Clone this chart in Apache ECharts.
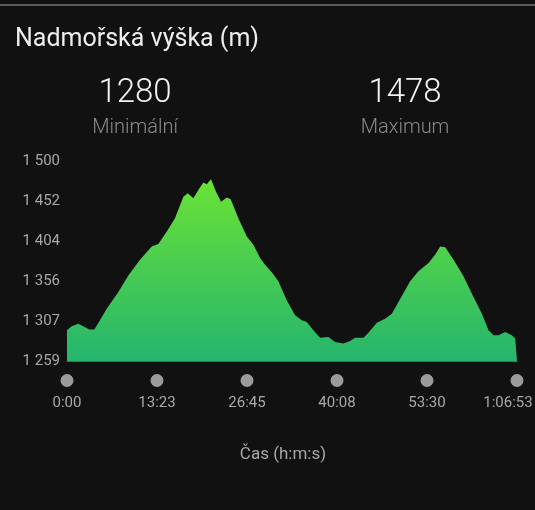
<!DOCTYPE html>
<html>
<head>
<meta charset="utf-8">
<script src="https://cdn.jsdelivr.net/npm/echarts@6/dist/echarts.min.js"></script>
<style>
html,body{margin:0;padding:0;background:#111111;}
#chart{width:535px;height:510px;}
</style>
</head>
<body>
<div id="chart"></div>
<script>
// elapsed time in seconds
const times = [0, 42, 100, 145, 199, 244, 294, 354, 458, 547, 651, 756, 815, 890, 963, 1038, 1077, 1127, 1171, 1216, 1246, 1284, 1329, 1374, 1425, 1460, 1528, 1603, 1662, 1722, 1766, 1826, 1885, 1960, 2034, 2094, 2138, 2197, 2257, 2331, 2391, 2465, 2525, 2569, 2644, 2688, 2763, 2837, 2897, 2956, 3060, 3134, 3224, 3283, 3328, 3373, 3447, 3536, 3625, 3700, 3759, 3804, 3848, 3908, 3967, 3997, 4013];
// elevation in metres
const elevations = [1296, 1301, 1304, 1301, 1297, 1297, 1308, 1322, 1342, 1362, 1381, 1397, 1400, 1415, 1431, 1457, 1461, 1455, 1465, 1474, 1472, 1478, 1463, 1451, 1456, 1454, 1431, 1409, 1399, 1383, 1375, 1366, 1355, 1332, 1314, 1308, 1306, 1296, 1287, 1288, 1282, 1280, 1283, 1287, 1287, 1293, 1305, 1310, 1316, 1330, 1355, 1367, 1377, 1387, 1397, 1396, 1381, 1361, 1336, 1316, 1296, 1290, 1290, 1294, 1290, 1286, 1285];
const xTickLabels = ['0:00', '13:23', '26:45', '40:08', '53:30', '1:06:53'];
const yTickLabels = ['1 259', '1 307', '1 356', '1 404', '1 452', '1 500'];
const titleText = 'Nadmořská výška (m)';
const statValues = ['1280', '1478'];
const statNames = ['Minimální', 'Maximum'];
const xAxisTitle = 'Čas (h:m:s)';

const totalTime = 4013;
const xInterval = totalTime / 5;
const yMin = 1259, yMax = 1500;
const yInterval = (yMax - yMin) / 5;

const data = times.map((t, i) => [t, elevations[i]]);
const FONT = 'Roboto, "Noto Sans", sans-serif';

const chart = echarts.init(document.getElementById('chart'), null, {renderer: 'canvas'});
const baseX = {
  type: 'value', min: 0, max: totalTime, interval: xInterval,
  axisTick: {show: false}, splitLine: {show: false}
};
chart.setOption({
  backgroundColor: '#111111',
  animation: false,
  grid: {left: 67, right: 18, top: 161, bottom: 149, containLabel: false, outerBoundsMode: 'none'},
  graphic: [
    {type: 'line', shape: {x1: 0, y1: 5, x2: 535, y2: 5}, style: {stroke: '#5a5a5a', lineWidth: 2}},
    {type: 'text', x: 15, y: 40, style: {text: titleText, fill: '#eeeeee', font: '400 25px ' + FONT, textVerticalAlign: 'middle'}},
    {type: 'text', x: 135, y: 94, style: {text: statValues[0], fill: '#f2f2f2', font: '300 33px ' + FONT, textAlign: 'center', textVerticalAlign: 'middle'}},
    {type: 'text', x: 135, y: 128, style: {text: statNames[0], fill: '#8a8a8a', font: '300 20px ' + FONT, textAlign: 'center', textVerticalAlign: 'middle'}},
    {type: 'text', x: 405, y: 94, style: {text: statValues[1], fill: '#f2f2f2', font: '300 33px ' + FONT, textAlign: 'center', textVerticalAlign: 'middle'}},
    {type: 'text', x: 405, y: 128, style: {text: statNames[1], fill: '#8a8a8a', font: '300 20px ' + FONT, textAlign: 'center', textVerticalAlign: 'middle'}}
  ],
  xAxis: [
    Object.assign({}, baseX, {
      axisLine: {show: true, lineStyle: {color: '#1d8a4e', width: 1}},
      axisLabel: {
        margin: 13,
        formatter: () => '{d|}',
        rich: {d: {width: 13, height: 13, borderRadius: 6.5, backgroundColor: '#9b9b9b'}}
      }
    }),
    Object.assign({}, baseX, {
      position: 'bottom',
      axisLine: {show: false},
      name: xAxisTitle,
      nameLocation: 'middle',
      nameGap: 85,
      nameTextStyle: {color: '#a8a8a8', fontSize: 17, fontFamily: FONT, padding: [0, 18, 0, 0]},
      axisLabel: {
        margin: 34,
        formatter: (v) => {
          const i = Math.round(v / xInterval);
          return i === xTickLabels.length - 1 ? '{l|' + xTickLabels[i] + '}' : '{n|' + xTickLabels[i] + '}';
        },
        rich: {
          n: {color: '#a8a8a8', fontSize: 15, fontFamily: FONT, lineHeight: 16},
          l: {color: '#a8a8a8', fontSize: 15, fontFamily: FONT, lineHeight: 16, padding: [0, 18, 0, 0]}
        }
      }
    })
  ],
  yAxis: {
    type: 'value', min: yMin, max: yMax, interval: yInterval,
    axisLine: {show: false}, axisTick: {show: false}, splitLine: {show: false},
    axisLabel: {
      margin: 7, color: '#a8a8a8', fontSize: 15, fontFamily: FONT,
      formatter: (v) => yTickLabels[Math.round((v - yMin) / yInterval)]
    }
  },
  series: [{
    type: 'line',
    xAxisIndex: 0,
    data: data,
    showSymbol: false,
    lineStyle: {width: 0, opacity: 0},
    areaStyle: {
      opacity: 1,
      color: new echarts.graphic.LinearGradient(0, 0, 0, 1, [
        {offset: 0, color: '#6ae236'},
        {offset: 1, color: '#25b56e'}
      ])
    }
  }]
});
</script>
</body>
</html>
